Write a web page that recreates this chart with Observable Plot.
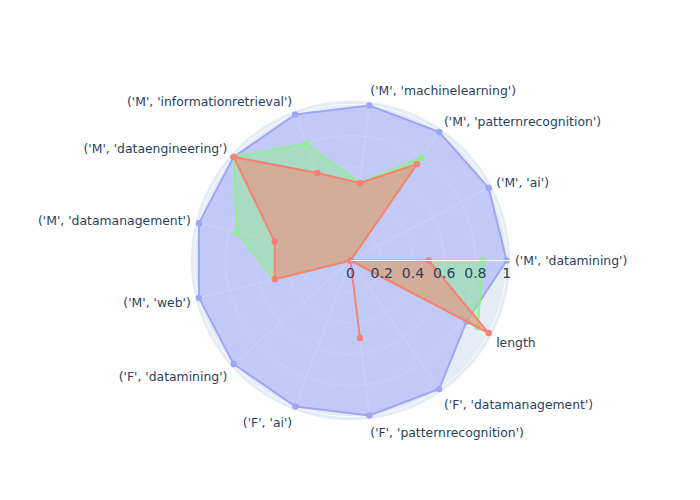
<!DOCTYPE html>
<html><head><meta charset="utf-8">
<script src="https://cdn.jsdelivr.net/npm/d3@7"></script>
<script src="https://cdn.jsdelivr.net/npm/@observablehq/plot@0.6"></script>
<style>body{margin:0;background:#fff}</style>
</head><body><div id="chart"></div>
<script>
// ---- data ----
const categories = [
  "('M', 'datamining')",
  "('M', 'ai')",
  "('M', 'patternrecognition')",
  "('M', 'machinelearning')",
  "('M', 'informationretrieval')",
  "('M', 'dataengineering')",
  "('M', 'datamanagement')",
  "('M', 'web')",
  "('F', 'datamining')",
  "('F', 'ai')",
  "('F', 'patternrecognition')",
  "('F', 'datamanagement')",
  "length"
];
const blueValues  = [1, 1, 1, 1, 1, 1, 1, 1, 1, 1, 1, 1, 0.84];
const greenValues = [0.85, 0, 0.8, 0.5, 0.8, 1, 0.75, 0.5, 0, 0, 0, 0, 0.92];
const redValues   = [0.5, 0, 0.75, 0.5, 0.6, 1, 0.5, 0.5, 0, 0, 0.5, 0, 1];
const radialTicks = [0, 0.2, 0.4, 0.6, 0.8, 1];
const radialTickLabels = ["0", "0.2", "0.4", "0.6", "0.8", "1"];

// ---- styling / layout ----
const seriesList = [
  {values: blueValues,  color: "#9ea6f7"},
  {values: greenValues, color: "#90ee90"},
  {values: redValues,   color: "#fa8072"}
];
const R_MAX = 1.025;           // radial range max
const S = 1;                   // degrees of latitude per radial unit
const OUTER_PX = 160;          // pixel radius of R_MAX
const PX = OUTER_PX / R_MAX;   // pixels per radial unit
const FS = 12.4;
const TICK_FS = 14;
const TEXT = "#2a3f5f";
const n = categories.length;
const theta = d3.scaleLinear().domain([0, n]).range([0, 360]); // math angle, CCW from east
const lon = (deg) => { let l = deg + 90; while (l > 180) l -= 360; while (l < -180) l += 360; return l; };
const lat = (r) => 90 - r * S;
const circle = (r) => d3.geoCircle().center([0, 90]).radius(r * S).precision(0.5)();

// angular label placement (plotly-like standoff)
const RP = 164.5;
const labelRows = categories.map((c, i) => {
  const t = theta(i) * Math.PI / 180;
  const s = Math.sin(t), co = Math.cos(t);
  const ff = s > 0 ? 0.2 : 1;
  const base = -s * FS * ff + Math.abs(co) * 0.35 * FS;
  const lx = RP * co, ly = RP * s - (base - 0.32 * FS);
  const anchor = Math.abs(co) < 0.1 ? "middle" : co > 0 ? "start" : "end";
  return {label: c, lon: lon(Math.atan2(ly, lx) * 180 / Math.PI), lat: lat(Math.hypot(lx, ly) / PX), anchor};
});

const traceMarks = seriesList.flatMap(({values, color}) => {
  const rows = categories.map((c, i) => ({i, v: values[i]}));
  return [
    Plot.line(rows, {
      x: d => lon(theta(d.i)), y: d => lat(d.v), curve: "linear-closed",
      stroke: color, strokeWidth: 2, fill: color, fillOpacity: 0.5
    }),
    Plot.dot(rows, {x: d => lon(theta(d.i)), y: d => lat(d.v), r: 3.2, fill: color, stroke: null})
  ];
});

const chart = Plot.plot({
  width: 700,
  height: 500,
  marginLeft: 190, marginRight: 190, marginTop: 100, marginBottom: 80,
  style: {fontFamily: "'DejaVu Sans', sans-serif", fontSize: "12px", background: "#fff"},
  projection: {type: "azimuthal-equidistant", rotate: [0, -90], domain: circle(R_MAX), clip: false},
  marks: [
    Plot.geo([R_MAX], {geometry: circle, fill: "#E5ECF6", stroke: "white", strokeWidth: 1}),
    Plot.geo(radialTicks.filter(r => r > 0), {geometry: circle, fill: "none", stroke: "white", strokeWidth: 1}),
    Plot.link(d3.range(n), {
      x1: i => lon(theta(i)), y1: 90, x2: i => lon(theta(i)), y2: lat(R_MAX),
      stroke: "white", strokeWidth: 1
    }),
    ...traceMarks,
    Plot.link([0], {x1: lon(0), y1: 90, x2: lon(0), y2: lat(R_MAX), stroke: "white", strokeWidth: 1}),
    Plot.text(radialTicks, {
      x: lon(0), y: d => lat(d), text: (d, i) => radialTickLabels[i],
      dy: 13.5, textAnchor: "middle", fill: TEXT, fontSize: TICK_FS
    }),
    ...["start", "middle", "end"].map(a => Plot.text(labelRows.filter(d => d.anchor === a), {
      x: "lon", y: "lat", text: "label", textAnchor: a, lineAnchor: "middle", fill: TEXT, fontSize: FS
    }))
  ]
});
document.getElementById("chart").append(chart);
</script>
</body></html>
